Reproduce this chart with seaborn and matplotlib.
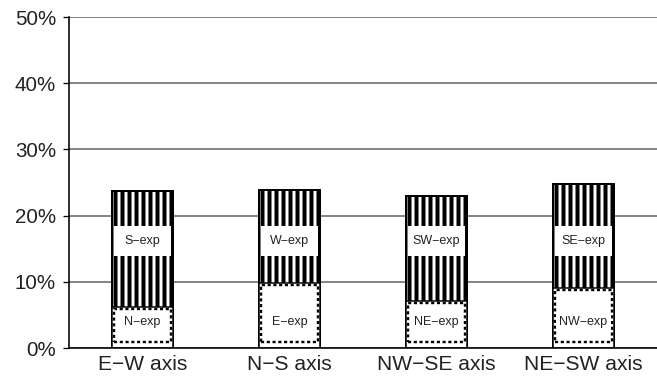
import matplotlib
matplotlib.use("Agg")
import matplotlib.pyplot as plt
import seaborn as sns
import pandas as pd
import numpy as np

categories = ["E\u2212W axis", "N\u2212S axis", "NW\u2212SE axis", "NE\u2212SW axis"]
bottom_vals = [6.2, 9.9, 7.1, 9.1]      # % share of lower segment
total_vals = [23.7, 23.9, 23.0, 24.8]   # % total bar height
top_labels = ["S\u2212exp", "W\u2212exp", "SW\u2212exp", "SE\u2212exp"]
bottom_labels = ["N\u2212exp", "E\u2212exp", "NE\u2212exp", "NW\u2212exp"]
yticks = [0, 10, 20, 30, 40, 50]
top_label_y = 16.2
bottom_label_y = 3.9

DPI = 84
def pt(px):
    return px * 72.0 / DPI

sns.set_theme(style="white")
plt.rcParams["font.family"] = ["Liberation Sans", "DejaVu Sans"]
plt.rcParams["hatch.linewidth"] = pt(4.0)
plt.rcParams["hatch.color"] = "black"

df = pd.DataFrame({"cat": categories, "bottom": bottom_vals, "total": total_vals})
inset_lo, inset_hi = 0.9, 0.35
df["inner"] = df["bottom"] - inset_lo - inset_hi

fig = plt.figure(figsize=(657 / DPI, 380 / DPI), dpi=DPI)
ax = fig.add_axes([0.105, 0.084, 0.895, 0.871])

for y in yticks:
    ax.axhline(y, color="#6a6a6a", lw=pt(1.6), zorder=0)

bw = 0.41
xs = np.arange(len(categories))
# full bar (striped upper segment)
sns.barplot(data=df, x="cat", y="total", color="white", edgecolor="black",
            linewidth=pt(2.0), width=bw, hatch="||", saturation=1, ax=ax, zorder=2)
# white band behind upper label
ax.bar(xs, [4.5] * len(xs), bottom=[top_label_y - 2.25] * len(xs), width=bw * 0.94,
       color="white", edgecolor="none", zorder=3)
# lower segment: white with thin solid outline
sns.barplot(data=df, x="cat", y="bottom", color="white", edgecolor="black",
            linewidth=pt(1.5), width=bw, saturation=1, ax=ax, zorder=4)
# dotted inner outline of lower segment
ax.bar(xs, df["inner"], bottom=inset_lo, width=bw * 0.93, color="none",
       edgecolor="black", linewidth=pt(2.4), linestyle=(0, (1.3, 1.1)), zorder=5)

lab_fs = pt(12.5)
for i in range(len(categories)):
    ax.text(i, top_label_y, top_labels[i], ha="center", va="center", fontsize=lab_fs,
            color="#222222", zorder=6)
    ax.text(i, bottom_label_y, bottom_labels[i], ha="center", va="center", fontsize=lab_fs,
            color="#222222", zorder=6,
            bbox=dict(boxstyle="square,pad=0.3", fc="white", ec="none"))

ax.set_xlim(-0.5, len(categories) - 0.5)
ax.set_ylim(0, 50)
ax.set_yticks(yticks)
ax.set_yticklabels([f"{v}%" for v in yticks], fontsize=pt(20.5), color="#222222")
ax.set_xticks(xs)
ax.set_xticklabels(categories, fontsize=pt(21), color="#222222")
ax.set_xticks(np.arange(-0.5, len(categories) + 0.5, 1), minor=True)
ax.tick_params(axis="x", which="major", length=0, pad=pt(7))
ax.tick_params(axis="x", which="minor", length=pt(6), width=pt(1.3), color="black", direction="out")
ax.tick_params(axis="y", length=pt(6), width=pt(1.3), color="black", direction="out",
               left=True, pad=pt(7))
ax.set_xlabel("")
ax.set_ylabel("")
for s in ["top", "right"]:
    ax.spines[s].set_visible(False)
for s in ["left", "bottom"]:
    ax.spines[s].set_color("black")
    ax.spines[s].set_linewidth(pt(1.6))
    ax.spines[s].set_zorder(7)

fig.savefig("out.png", dpi=DPI)
